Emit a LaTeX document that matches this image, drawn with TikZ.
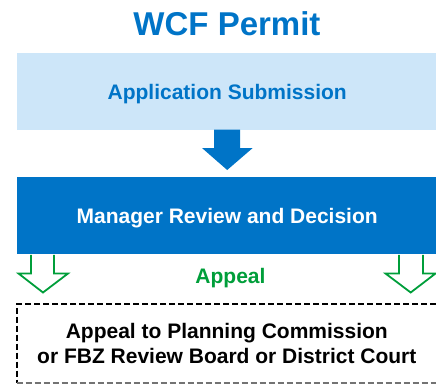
\documentclass[tikz,border=0pt]{standalone}
\usepackage{fontspec}
\setmainfont{Liberation Sans}
\usetikzlibrary{calc}
\definecolor{dblue}{RGB}{0,116,199}
\definecolor{lblue}{RGB}{205,230,249}
\definecolor{agreen}{RGB}{0,158,58}
\begin{document}
\begin{tikzpicture}[x=1pt,y=-1pt,
  stagebox/.style={rectangle, inner sep=0pt, outer sep=0pt, anchor=north west,
    minimum width=421pt, minimum height=77pt, text height=15pt, text depth=0pt,
    font=\fontsize{21}{24}\selectfont\bfseries},
  appealarrow/.style={draw=agreen, line width=1.8pt, line join=miter},
  dashline/.style={draw=black, line width=2pt, dash pattern=on 6pt off 3pt},
  courttext/.style={inner sep=0pt, align=center,
    font=\fontsize{21}{24.5}\selectfont\bfseries}]
\useasboundingbox (0,0) rectangle (436,383);
\clip (0,0) rectangle (436,383);

\node[anchor=base, text=dblue, font=\fontsize{33}{36}\selectfont\bfseries, inner sep=0pt]
  (title) at (227,35) {WCF Permit};

\node[stagebox, fill=lblue, text=dblue] (app) at (16.7,53) {Application Submission};
\node[stagebox, fill=dblue, text=white] (mgr) at (16.7,177.3) {Manager Review and Decision};

% dashed appeal box (its right side lies beyond the picture)
\coordinate (cnw) at (16.7,304);
\coordinate (cne) at (445,304);
\coordinate (csw) at (16.7,382.8);
\coordinate (cse) at (445,382.8);
\draw[dashline] (cne) -- (cnw) -- (csw);
\draw[dashline, draw=black!55] (csw) -- (cse);
\node[courttext] (court) at (226.8,343.5) {Appeal to Planning Commission\\or FBZ Review Board or District Court};

\node[anchor=base, text=agreen, font=\fontsize{21}{24}\selectfont\bfseries, inner sep=0pt]
  (appeal) at (230.5,283.3) {Appeal};

% blue arrow from app to mgr
\fill[dblue] ($(app.south)+(-13,-0.5)$) -- ($(app.south)+(-13,18)$)
  -- ($(app.south)+(-25.2,18)$) -- ($(mgr.north)+(0,-7.3)$)
  -- ($(app.south)+(25.5,18)$) -- ($(app.south)+(12.8,18)$)
  -- ($(app.south)+(12.8,-0.5)$) -- cycle;

% green outlined arrows from mgr to the appeal box
\draw[appealarrow] ($(mgr.south west)+(14.3,0.5)$) -- ($(mgr.south west)+(14.3,19.2)$)
  -- ($(mgr.south west)+(1.8,19.2)$) -- ($(cnw)+(26.3,-11.5)$)
  -- ($(mgr.south west)+(51.3,19.2)$) -- ($(mgr.south west)+(37.3,19.2)$)
  -- ($(mgr.south west)+(37.3,0.5)$);
\draw[appealarrow] ($(mgr.south east)+(-38.7,0.5)$) -- ($(mgr.south east)+(-38.7,19.2)$)
  -- ($(mgr.south east)+(-52.2,19.2)$) -- ($(cnw)+(394,-11.5)$)
  -- ($(mgr.south east)+(-2.2,19.2)$) -- ($(mgr.south east)+(-14.7,19.2)$)
  -- ($(mgr.south east)+(-14.7,0.5)$);
\end{tikzpicture}
\end{document}
